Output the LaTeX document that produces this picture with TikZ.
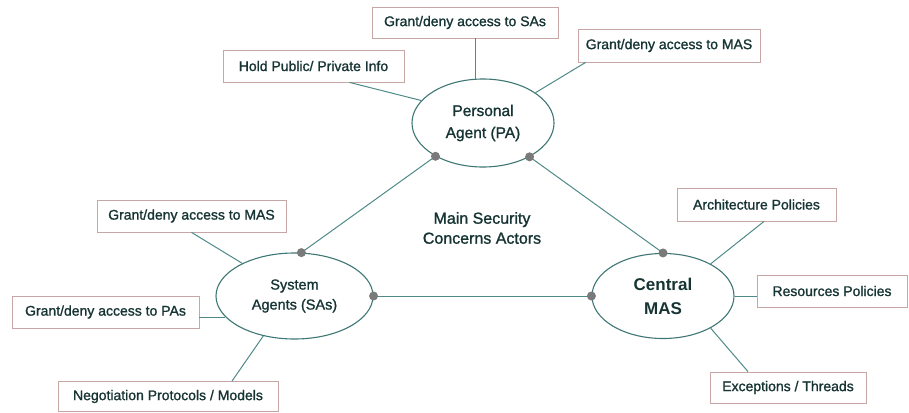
\documentclass[tikz,border=0pt]{standalone}
\usepackage{fontspec}
\setmainfont{Liberation Sans}
\newfontfamily\heavy{Liberation Sans}[FakeBold=1.2]
\usetikzlibrary{shapes.geometric}
\definecolor{inkc}{HTML}{173434}
\definecolor{wirec}{HTML}{4F8A88}
\definecolor{rimc}{HTML}{3F7775}
\definecolor{boxc}{HTML}{C9A6A6}
\definecolor{dotc}{HTML}{7A7A7A}
\begin{document}
\begin{tikzpicture}[x=1pt,y=-1pt,
  labelbox/.style={draw=boxc, line width=0.8pt, fill=white, minimum width=#1,
    minimum height=32pt, inner sep=0pt, text=inkc,
    font=\heavy\fontsize{14}{16}\selectfont},
  actor/.style={ellipse, draw=rimc, line width=1.1pt, fill=white, inner sep=0pt,
    align=center, text=inkc},
  wire/.style={draw=wirec, line width=1pt},
  joint/.style={circle, fill=dotc, minimum size=9pt, inner sep=0pt}]

\fill[white] (0,0) rectangle (909,412);
\useasboundingbox (0,0) rectangle (909,412);

% the three actors
\node[actor, minimum width=142pt, minimum height=88pt,
      font=\heavy\fontsize{15.5}{22}\selectfont] (pa) at (483,123) {Personal\\Agent (PA)};
\node[actor, minimum width=157pt, minimum height=86pt,
      font=\heavy\fontsize{14.5}{20}\selectfont] (sa) at (294.5,296) {System\\Agents (SAs)};
\node[actor, minimum width=142pt, minimum height=85pt,
      font=\bfseries\fontsize{17}{24}\selectfont] (mas) at (663,296) {Central\\MAS};

\node[text=inkc, align=center, font=\heavy\fontsize{16}{20}\selectfont] (title) at (482,228)
  {Main Security\\Concerns Actors};

% concern boxes
\node[labelbox=186pt, minimum height=31pt] (sas)   at (465,22.5)  {Grant/deny access to SAs};
\node[labelbox=182pt, minimum height=33pt] (pamas) at (669,45.5)  {Grant/deny access to MAS};
\node[labelbox=181pt] (hold)  at (313.5,66)  {Hold Public/ Private Info};
\node[labelbox=189pt] (samas) at (191.5,216) {Grant/deny access to MAS};
\node[labelbox=187pt] (sapas) at (105.5,312) {Grant/deny access to PAs};
\node[labelbox=220pt, minimum height=30pt] (negot) at (168,396.5) {Negotiation Protocols / Models};
\node[labelbox=159pt, minimum height=33pt] (arch)  at (756.5,204.5) {Architecture Policies};
\node[labelbox=150pt] (res)   at (832,291)  {Resources Policies};
\node[labelbox=156pt, minimum height=31pt] (exc)   at (788,387.5) {Exceptions / Threads};

% connectors from the boxes
\draw[wire] ([xshift=36pt]hold.south) -- (pa.160);
\draw[wire] (sas.south -| pa.100) -- (pa.100);
\draw[wire] ([xshift=8pt]pamas.south west) -- (pa.30);
\draw[wire] (samas.south) -- (sa.148);
\draw[wire] (sa.197 -| sapas.east) -- (sa.197);
\draw[wire] ([xshift=64pt]negot.north) -- (sa.-128);
\draw[wire] ([xshift=7.5pt]arch.south) -- (mas.34);
\draw[wire] (mas.east) -- (mas.east -| res.west);
\draw[wire] ([xshift=-40pt]exc.north) -- (mas.-34);

% triangle between the actors
\draw[wire] (pa.215) -- (sa.81);
\draw[wire] (pa.-36) -- (mas.north);
\draw[wire] (sa.east) -- (mas.west);

\node[joint] (j1) at (pa.215) {};
\node[joint] (j2) at (sa.81) {};
\node[joint] (j3) at (pa.-36) {};
\node[joint] (j4) at (mas.north) {};
\node[joint] (j5) at (sa.east) {};
\node[joint] (j6) at (mas.west) {};
\end{tikzpicture}
\end{document}
